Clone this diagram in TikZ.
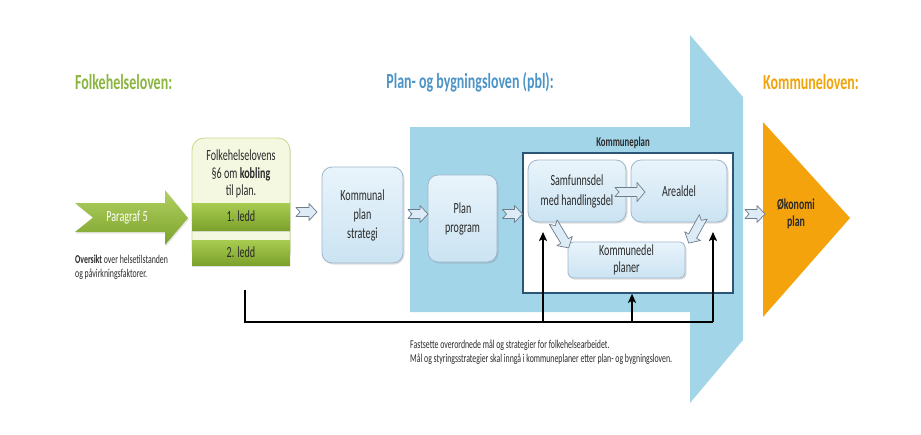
\documentclass[tikz,border=0pt]{standalone}
\usepackage{fontspec}
\setmainfont{Carlito}[FakeStretch=0.65]
\usetikzlibrary{shadows,calc,arrows.meta}
\definecolor{greenText}{HTML}{8BB53F}
\definecolor{blueText}{HTML}{4C93C6}
\definecolor{orangeText}{HTML}{F0A30A}
\definecolor{bigBlue}{HTML}{A3D5E8}
\definecolor{kpBorder}{HTML}{2B5576}
\definecolor{boxTop}{HTML}{E9F4FB}
\definecolor{boxBot}{HTML}{CBE3F2}
\definecolor{boxLine}{HTML}{9DB6CC}
\definecolor{fhlFill}{HTML}{F4F8E1}
\definecolor{fhlLine}{HTML}{C5D98A}
\definecolor{bandTop}{HTML}{A8CC50}
\definecolor{bandBot}{HTML}{7DA22C}
\definecolor{orangeFill}{HTML}{F4A30C}
\definecolor{hollowFill}{HTML}{DDEBF7}
\definecolor{hollowLine}{HTML}{6E7D8C}
\definecolor{txt}{HTML}{2A2A2A}
% notched hollow block arrow: centre x, centre y, angle, length, head half-height
\newcommand\hollowarr[5]{%
  \begin{scope}[shift={(#1,#2)}, rotate=#3]
    \path[hollow] ({-#4/2},-4.5) -- ({#4/2-8},-4.5) -- ({#4/2-8},-#5) -- ({#4/2},0) -- ({#4/2-8},#5)
      -- ({#4/2-8},4.5) -- ({-#4/2},4.5) -- ({-#4/2+4},0) -- cycle;
  \end{scope}}
\begin{document}
\begin{tikzpicture}[x=1pt,y=-1pt,
  pbox/.style={draw=boxLine, line width=0.8pt, rounded corners=10pt, top color=boxTop, bottom color=boxBot,
    align=center, font=\fontsize{15.5}{19}\selectfont, text=txt, inner sep=0pt,
    drop shadow={opacity=0.25, shadow xshift=1.5pt, shadow yshift=-1.5pt}},
  band/.style={top color=bandTop, bottom color=bandBot, minimum width=98pt, inner sep=0pt,
    font=\fontsize{15.5}{17}\selectfont, text=txt,
    drop shadow={opacity=0.25, shadow xshift=0pt, shadow yshift=-1.5pt}},
  hollow/.style={draw=hollowLine, fill=hollowFill, line width=0.7pt, line join=round},
  header/.style={font=\fontsize{21.5}{24}\selectfont\bfseries, inner sep=0pt},
  small/.style={font=\fontsize{12}{13.5}\selectfont, text=txt, align=left, inner sep=0pt},
  conn/.style={line width=2pt, draw=black},
  tip/.style={-{Stealth[length=9pt, width=8pt, inset=2pt]}}
]
\useasboundingbox (0,0) rectangle (921,434);

% headers
\node[header, text=greenText, anchor=west] (h1) at (75,82) {Folkehelseloven:};
\node[header, text=blueText] (h2) at (470,82) {Plan- og bygningsloven (pbl):};
\node[header, text=orangeText, anchor=west] (h3) at (763,82) {Kommuneloven:};

% big light blue arrow
\fill[bigBlue] (410,127) -- (690,127) -- (690,35) -- (743,97) -- (743,340) -- (690,403) -- (690,312) -- (410,312) -- cycle;

% orange triangle
\fill[orangeFill] (763,122) -- (850,218) -- (763,317) -- cycle;
\node[font=\fontsize{15.2}{17}\selectfont\bfseries, align=center, text=txt, inner sep=0pt] (oko) at (796,214) {Økonomi\\plan};

% Paragraf 5 arrow
\shade[top color=bandTop!90!white, bottom color=bandBot, drop shadow={opacity=0.2, shadow xshift=1pt, shadow yshift=-1.5pt}]
  (75,203) -- (165,203) -- (165,190) -- (188,218) -- (165,245) -- (165,232) -- (75,232) -- (93,217.5) -- cycle;
\node[font=\fontsize{15.5}{17}\selectfont, text=white, inner sep=0pt] (p5) at (127,217.5) {Paragraf 5};
\node[small, anchor=north west] (oversikt) at (75,255) {\textbf{Oversikt} over helsetilstanden\\og påvirkningsfaktorer.};

% Folkehelselovens box
\node[draw=fhlLine, fill=fhlFill, line width=0.8pt, rounded corners=12pt, minimum width=98pt, minimum height=125pt, inner sep=0pt,
  drop shadow={opacity=0.2, shadow xshift=1pt, shadow yshift=-1.5pt}] (fhl) at (241,200.5) {};
\node[align=center, font=\fontsize{15.5}{17.5}\selectfont, text=txt, inner sep=0pt] (fhltext) at (241,174) {Folkehelselovens\\§6 om \textbf{kobling}\\til plan.};
\node[band, minimum height=27pt] (b1) at (241,216.5) {1. ledd};
\node[band, minimum height=25pt] (b2) at (241,252.5) {2. ledd};

% process boxes
\node[pbox, minimum width=81pt, minimum height=96pt] (kps) at (362.5,215) {Kommunal\\plan\\strategi};
\node[pbox, minimum width=69pt, minimum height=87pt] (pp) at (462.5,218.5) {Plan\\program};

% Kommuneplan frame
\node[draw=kpBorder, fill=white, line width=1.6pt, minimum width=210pt, minimum height=140pt, inner sep=0pt] (kp) at (628,223) {};
\node[font=\fontsize{13.5}{15}\selectfont\bfseries, text=txt, inner sep=0pt] (kptitle) at (623,143) {Kommuneplan};
\node[pbox, minimum width=98pt, minimum height=62pt, font=\fontsize{15.5}{20}\selectfont] (sam) at (577,191) {Samfunnsdel\\med handlingsdel};
\node[pbox, minimum width=96pt, minimum height=62pt] (areal) at (679,191) {Arealdel};
\node[pbox, rounded corners=5pt, minimum width=117pt, minimum height=36pt, font=\fontsize{15.5}{16.5}\selectfont] (kdp) at (626.5,260) {Kommunedel\\planer};

% hollow block arrows between the boxes
\hollowarr{306.5}{212}{0}{21}{8.5}
\hollowarr{418}{214}{0}{20}{8.5}
\hollowarr{512.5}{214}{0}{20}{8.5}
\hollowarr{755}{214}{0}{20}{8.5}
\hollowarr{630}{192}{0}{30}{9.5}
\hollowarr{561}{235}{-59}{30}{9}
\hollowarr{696}{230}{-119}{30}{9}

% black connectors
\coordinate (lstart) at (245,290);
\coordinate (lcorner) at (245,322);
\coordinate (rcorner) at (713,322);
\coordinate (j1) at (543,322);
\coordinate (j2) at (632,322);
\coordinate (t1) at (543,232);
\coordinate (t3) at (713,232);
\draw[conn] (lstart) -- (lcorner) -- (rcorner);
\draw[conn, tip] (rcorner) -- (t3);
\draw[conn, tip] (j1) -- (t1);
\draw[conn, tip] (j2) -- (kp.south -| j2);

\node[small, anchor=north west] (note) at (410,340) {Fastsette overordnede mål og strategier for folkehelsearbeidet.\\Mål og styringsstrategier skal inngå i kommuneplaner etter plan- og bygningsloven.};
\end{tikzpicture}
\end{document}
